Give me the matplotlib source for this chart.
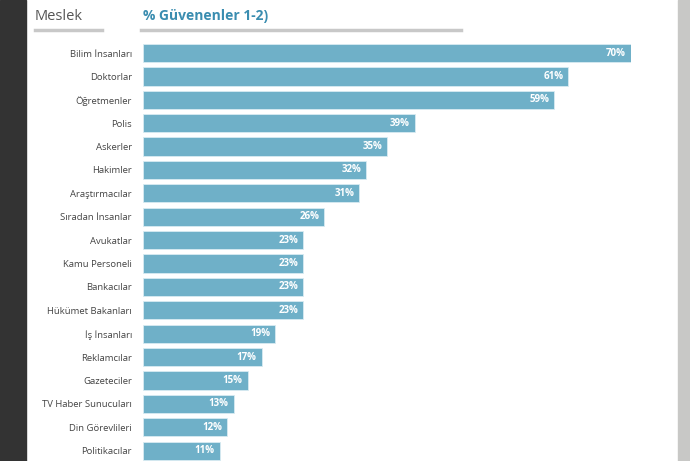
import matplotlib.pyplot as plt
from matplotlib.patches import Rectangle
from matplotlib.lines import Line2D

professions = ["Bilim İnsanları", "Doktorlar", "Öğretmenler", "Polis", "Askerler",
               "Hakimler", "Araştırmacılar", "Sıradan İnsanlar", "Avukatlar",
               "Kamu Personeli", "Bankacılar", "Hükümet Bakanları", "İş İnsanları",
               "Reklamcılar", "Gazeteciler", "TV Haber Sunucuları", "Din Görevlileri",
               "Politikacılar"]
trust = [70, 61, 59, 39, 35, 32, 31, 26, 23, 23, 23, 23, 19, 17, 15, 13, 12, 11]

plt.rcParams['font.family'] = ['Open Sans', 'DejaVu Sans']

W, H = 690, 461
fig = plt.figure(figsize=(W / 100, H / 100), dpi=100)
fig.patch.set_facecolor('white')

# side strips
fig.add_artist(Rectangle((0, 0), 26 / W, 1, transform=fig.transFigure,
                         color='#333333', zorder=0))
fig.add_artist(Rectangle((678 / W, 0), 12 / W, 1, transform=fig.transFigure,
                         color='#c8c8c6', zorder=0))

# header
fig.text(35 / W, 1 - 16 / H, "Meslek", fontsize=10.5, color='#555555', va='center')
fig.text(143 / W, 1 - 16 / H, "% Güvenenler 1-2)", fontsize=10, color='#3a8db0',
         fontweight='bold', va='center')
fig.add_artist(Line2D([35 / W, 102 / W], [1 - 30 / H] * 2, transform=fig.transFigure,
                      color='#c8c8c8', lw=2.5))
fig.add_artist(Line2D([141 / W, 461 / W], [1 - 30 / H] * 2, transform=fig.transFigure,
                      color='#c8c8c8', lw=2.5))

# bars
ax = fig.add_axes([143 / W, 0, 488 / W, 421 / H])
ax.set_facecolor('none')
y = list(range(len(professions)))
ax.barh(y, trust, height=0.78, color='#6fb0c8', edgecolor='#d8ebf2', linewidth=0.6)
for yi, v in zip(y, trust):
    ax.text(v - 0.7, yi, f"{v}%", ha='right', va='center', color='white',
            fontsize=7, fontweight='bold')
ax.set_xlim(0, 70)
ax.set_ylim(17.44, -0.556)
ax.set_yticks(y)
ax.set_yticklabels(professions, fontsize=6.8, color='#444444')
ax.tick_params(axis='y', length=0, pad=8)
ax.set_xticks([])
for s in ax.spines.values():
    s.set_visible(False)

fig.savefig('out.png', dpi=100)
